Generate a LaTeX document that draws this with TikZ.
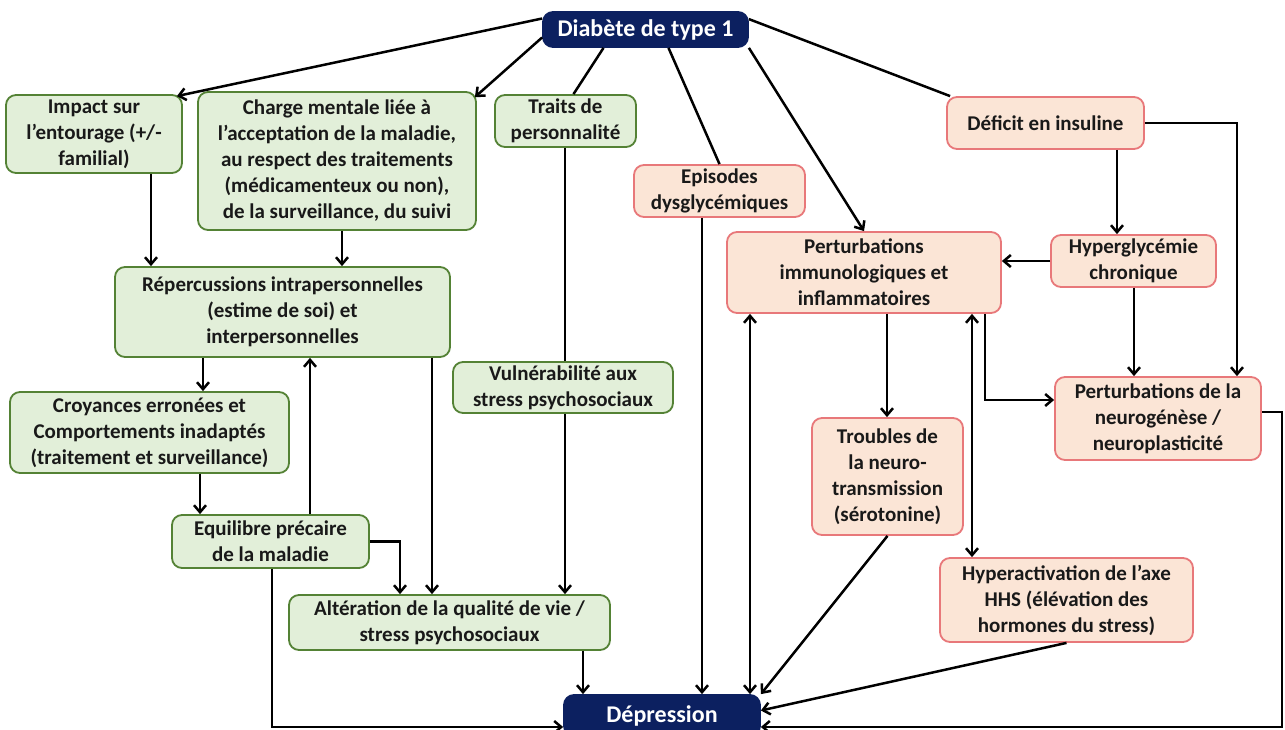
\documentclass[tikz,border=0pt]{standalone}
\usepackage{fontspec}
\setmainfont{Carlito}
\usetikzlibrary{arrows.meta}
\definecolor{navy}{HTML}{0C2060}
\definecolor{gfill}{HTML}{E2EFD9}
\definecolor{gborder}{HTML}{548235}
\definecolor{rfill}{HTML}{FBE5D6}
\definecolor{rborder}{HTML}{E8787A}
\newcommand\bx[7]{\node[#6, minimum width={#4-#2}, minimum height={#5-#3}] (#1) at ({(#2+#4)/2},{(#3+#5)/2}) {#7};}
\begin{document}
\begin{tikzpicture}[x=1pt,y=-1pt,
 base/.style={rounded corners=10pt, align=center, inner sep=1pt, font=\bfseries\fontsize{21}{26}\selectfont, line width=1.8pt, text=black!90},
 gbox/.style={base, draw=gborder, fill=gfill},
 rbox/.style={base, draw=rborder, fill=rfill},
 nbox/.style={base, draw=navy, fill=navy, text=white, font=\bfseries\fontsize{24}{28}\selectfont},
 ln/.style={line width=2.5pt},
 arr/.style={line width=2.5pt, -{Straight Barb[length=7pt,width=12pt]}},
 darr/.style={line width=2.5pt, {Straight Barb[length=7pt,width=12pt]}-{Straight Barb[length=7pt,width=12pt]}}]
\fill[white] (0,0) rectangle (1285,730);
\useasboundingbox (0,0) rectangle (1285,730);
% helper coordinates
\foreach \v in {151,342,203,310,400,432,200,272,583,565,702,750,972,887,985,1117,1134,1237,1282}{\coordinate (X\v) at (\v,0);}
\foreach \v in {400,412,727}{\coordinate (Y\v) at (0,\v);}
% nodes
\bx{diab}{543}{12}{748}{47}{nbox}{Diabète de type 1}
\bx{impact}{6}{95}{182}{173}{gbox}{Impact sur\\l’entourage (+/-\\familial)}
\bx{charge}{198}{92}{476}{230}{gbox}{Charge mentale liée à\\l’acceptation de la maladie,\\au respect des traitements\\(médicamenteux ou non),\\de la surveillance, du suivi}
\bx{traits}{495}{95}{636}{147}{gbox}{Traits de\\personnalité}
\bx{rep}{115}{267}{450}{357}{gbox}{Répercussions intrapersonnelles\\(estime de soi) et\\interpersonnelles}
\bx{croy}{10}{392}{289}{473}{gbox}{Croyances erronées et\\Comportements inadaptés\\(traitement et surveillance)}
\bx{vul}{453}{362}{673}{413}{gbox}{Vulnérabilité aux\\stress psychosociaux}
\bx{equi}{172}{515}{369}{568}{gbox}{Equilibre précaire\\de la maladie}
\bx{alt}{289}{595}{610}{650}{gbox}{Altération de la qualité de vie /\\stress psychosociaux}
\bx{epis}{634}{165}{805}{217}{rbox}{Episodes\\dysglycémiques}
\bx{deficit}{947}{97}{1144}{149}{rbox}{Déficit en insuline}
\bx{hyperg}{1051}{235}{1216}{287}{rbox}{Hyperglycémie\\chronique}
\bx{immuno}{727}{232}{1001}{313}{rbox}{Perturbations\\immunologiques et\\inflammatoires}
\bx{neuro}{1055}{377}{1261}{460}{rbox}{Perturbations de la\\neurogénèse /\\neuroplasticité}
\bx{troubles}{812}{418}{963}{535}{rbox}{Troubles de\\la neuro-\\transmission\\(sérotonine)}
\bx{hyperact}{940}{558}{1193}{642}{rbox}{Hyperactivation de l’axe\\HHS (élévation des\\hormones du stress)}
\bx{dep}{564}{695}{760}{736}{nbox}{Dépression}
% left connectors
\draw[arr] ([yshift=11pt]diab.west) -- ([xshift=-6pt,yshift=-2pt]impact.north east);
\draw[arr] ([yshift=-8pt]diab.west) -- ([xshift=-2pt,yshift=-6pt]charge.north east);
\draw[ln] ([xshift=-42pt]diab.south) -- ([xshift=8pt]traits.north);
\draw[ln] (traits.south -| X565) -- (vul.north -| X565);
\draw[arr] (vul.south -| X565) -- (alt.north -| X565);
\draw[arr] (impact.south -| X151) -- (rep.north -| X151);
\draw[arr] (charge.south -| X342) -- (rep.north -| X342);
\draw[arr] (rep.south -| X203) -- (croy.north -| X203);
\draw[arr] (equi.north -| X310) -- (rep.south -| X310);
\draw[arr] (rep.south -| X432) -- (alt.north -| X432);
\draw[arr] (croy.south -| X200) -- (equi.north -| X200);
\draw[arr] (equi.east) -| (alt.north -| X400);
\draw[arr] (equi.south -| X272) |- (dep.west |- Y727);
\draw[arr] (alt.south -| X583) -- (dep.north -| X583);
% right connectors
\draw[ln] ([xshift=23pt]diab.south) -- (epis.north);
\draw[arr] (epis.south -| X702) -- (dep.north -| X702);
\draw[arr] (diab.south east) -- (immuno.north);
\draw[ln] ([yshift=-8pt]diab.north east) -- ([xshift=4pt]deficit.north west);
\draw[arr] (deficit.south -| X1117) -- (hyperg.north -| X1117);
\draw[arr] (deficit.east) -| (neuro.north -| X1237);
\draw[arr] (hyperg.west) -- (immuno.east |- hyperg.west);
\draw[arr] (hyperg.south -| X1134) -- (neuro.north -| X1134);
\draw[arr] (immuno.south -| X985) |- (neuro.west |- Y400);
\draw[arr] (immuno.south -| X887) -- (troubles.north -| X887);
\draw[darr] (immuno.south -| X750) -- (dep.north -| X750);
\draw[darr] (immuno.south -| X972) -- (hyperact.north -| X972);
\draw[arr] (troubles.south) -- (dep.north east);
\draw[arr] (hyperact.south) -- ([yshift=5pt]dep.east);
\draw[arr] (neuro.east |- Y412) -| (X1282 |- Y727) -- (dep.east |- Y727);
\end{tikzpicture}
\end{document}
